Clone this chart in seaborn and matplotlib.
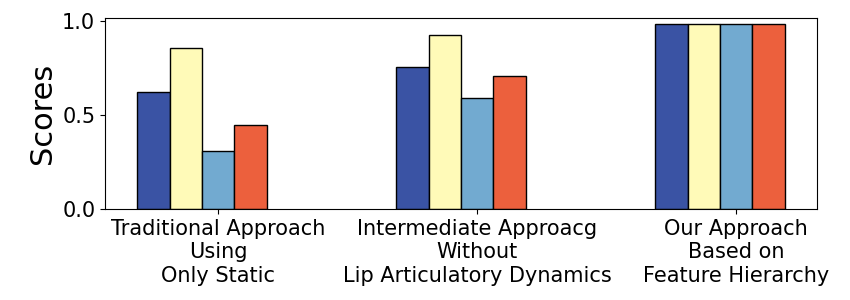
import pandas as pd
import seaborn as sns
import matplotlib.pyplot as plt

groups = ["Traditional Approach\nUsing\nOnly Static",
          "Intermediate Approacg\nWithout\nLip Articulatory Dynamics",
          "Our Approach\nBased on\nFeature Hierarchy"]
metrics = ["m1", "m2", "m3", "m4"]
m1 = [0.623, 0.757, 0.982]
m2 = [0.858, 0.924, 0.982]
m3 = [0.307, 0.592, 0.982]
m4 = [0.446, 0.709, 0.982]
colors = ["#3a53a4", "#fffab8", "#72aad0", "#ec603d"]

rows = []
for name, vals in zip(metrics, [m1, m2, m3, m4]):
    for g, v in zip(groups, vals):
        rows.append({"group": g, "metric": name, "score": v})
df = pd.DataFrame(rows)

fig = plt.figure(figsize=(8.5, 3), dpi=100)
ax = fig.add_axes([0.1235, 0.302, 0.8377, 0.637])
sns.barplot(data=df, x="group", y="score", hue="metric", palette=colors,
            saturation=1, width=0.5, edgecolor="black", linewidth=1,
            legend=False, ax=ax)

ax.set_xticks([0.0625, 1.0625, 2.0625])
ax.set_xticklabels(groups, fontsize=15)
ax.set_xlim(-0.375, 2.375)
ax.set_ylim(0, 1.013)
ax.set_yticks([0.0, 0.5, 1.0])
ax.tick_params(axis="y", labelsize=15)
ax.set_xlabel("")
ax.set_ylabel("Scores", fontsize=22)

plt.savefig("out.png")
